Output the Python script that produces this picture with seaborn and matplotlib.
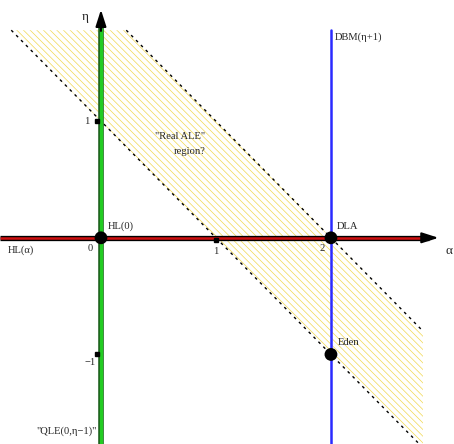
import numpy as np
import matplotlib
matplotlib.use("Agg")
import matplotlib.pyplot as plt
import matplotlib.transforms as mtransforms
import seaborn as sns

# phase diagram data
band_intercepts = [1, 2]          # dashed borders: eta = c - alpha
band_alpha_range = [-0.81, 2.8]
band_eta_top = 1.78
point_alpha = [0, 2, 2]
point_eta = [0, 0, -1]
point_names = ["HL(0)", "DLA", "Eden"]
xtick_vals = [1]
ytick_vals = [1, -1]
xlim = [-0.878, 3.07]
ylim = [-1.768, 2.039]

sns.set_style("white")
plt.rcParams['font.family'] = ['Liberation Serif', 'DejaVu Serif']
plt.rcParams['hatch.linewidth'] = 0.5

fig = plt.figure(figsize=(4.54, 4.44), dpi=100)
ax = fig.add_axes([0, 0, 1, 1])
ax.set_xlim(xlim)
ax.set_ylim(ylim)
ax.axis("off")

# hatched "Real ALE" band
lo, hi = band_intercepts
a0, a1 = band_alpha_range
poly_a = [lo - band_eta_top, hi - band_eta_top, a1, a1]
poly_e = [band_eta_top, band_eta_top, hi - a1, lo - a1]
ax.fill(poly_a, poly_e, facecolor="none", edgecolor="#f2d850",
        hatch="\\\\\\\\\\", linewidth=0, zorder=1)

for c in band_intercepts:
    xs = np.array([c - band_eta_top, a1])
    sns.lineplot(x=xs, y=c - xs, ax=ax, color="black", lw=1.0,
                 linestyle=(0, (2, 3)), sort=False, estimator=None, zorder=2)

# alpha axis (red, outlined)
ax.plot([xlim[0], 2.85], [0, 0], color="black", lw=3.8, zorder=3, solid_capstyle="butt")
ax.plot([xlim[0], 2.85], [0, 0], color="#d01010", lw=1.8, zorder=4, solid_capstyle="butt")
ax.annotate("", xy=(2.96, 0), xytext=(2.8, 0),
            arrowprops=dict(arrowstyle="-|>,head_length=1.0,head_width=0.32",
                            color="black", lw=1.5), zorder=5)

# eta axis (green, outlined)
ax.plot([0, 0], [ylim[0], 1.8], color="#1a5a1a", lw=4.0, zorder=3, solid_capstyle="butt")
ax.plot([0, 0], [ylim[0], 1.8], color="#22cc22", lw=2.4, zorder=4, solid_capstyle="butt")
ax.annotate("", xy=(0, 1.98), xytext=(0, 1.75),
            arrowprops=dict(arrowstyle="-|>,head_length=1.0,head_width=0.32",
                            color="black", lw=1.5), zorder=5)

# DBM line
ax.plot([2, 2], [ylim[0], band_eta_top], color="#2a2aff", lw=1.8, zorder=3)

# tick squares
off_x = mtransforms.ScaledTranslation(0, -2.5 / 100, fig.dpi_scale_trans)
off_y = mtransforms.ScaledTranslation(-3.5 / 100, 0, fig.dpi_scale_trans)
for v in xtick_vals:
    ax.plot(v, 0, "s", color="black", ms=2.8, transform=ax.transData + off_x, zorder=6)
for v in ytick_vals:
    ax.plot(0, v, "s", color="black", ms=2.8, transform=ax.transData + off_y, zorder=6)

sns.scatterplot(x=point_alpha, y=point_eta, ax=ax, color="black", s=85,
                edgecolor="none", zorder=7)

fs = 7.6
ax.text(-0.14, 1.89, "η", fontsize=9.5, ha="center", va="center")
ax.text(3.03, -0.11, "α", fontsize=9.5, ha="center", va="center")
ax.text(0.06, 0.1, point_names[0], fontsize=fs, ha="left", va="center")
ax.text(2.05, 0.1, point_names[1], fontsize=fs, ha="left", va="center")
ax.text(2.06, -0.9, point_names[2], fontsize=fs, ha="left", va="center")
ax.text(-0.096, -0.09, "0", fontsize=fs, ha="center", va="center")
ax.text(1.0, -0.12, "1", fontsize=fs, ha="center", va="center")
ax.text(1.92, -0.09, "2", fontsize=fs, ha="center", va="center")
ax.text(-0.12, 1.0, "1", fontsize=fs, ha="center", va="center")
ax.text(-0.045, -1.07, "−1", fontsize=fs, ha="right", va="center")
ax.text(-0.70, -0.11, "HL(α)", fontsize=fs, ha="center", va="center")
ax.text(0.69, 0.87, "\"Real ALE\"", fontsize=fs, ha="center", va="center")
ax.text(0.77, 0.74, "region?", fontsize=fs, ha="center", va="center")
ax.text(2.03, 1.72, "DBM(η+1)", fontsize=fs, ha="left", va="center")
ax.text(-0.04, -1.66, "\"QLE(0,η−1)\"", fontsize=fs, ha="right", va="center")

fig.savefig("out.png", dpi=100)
